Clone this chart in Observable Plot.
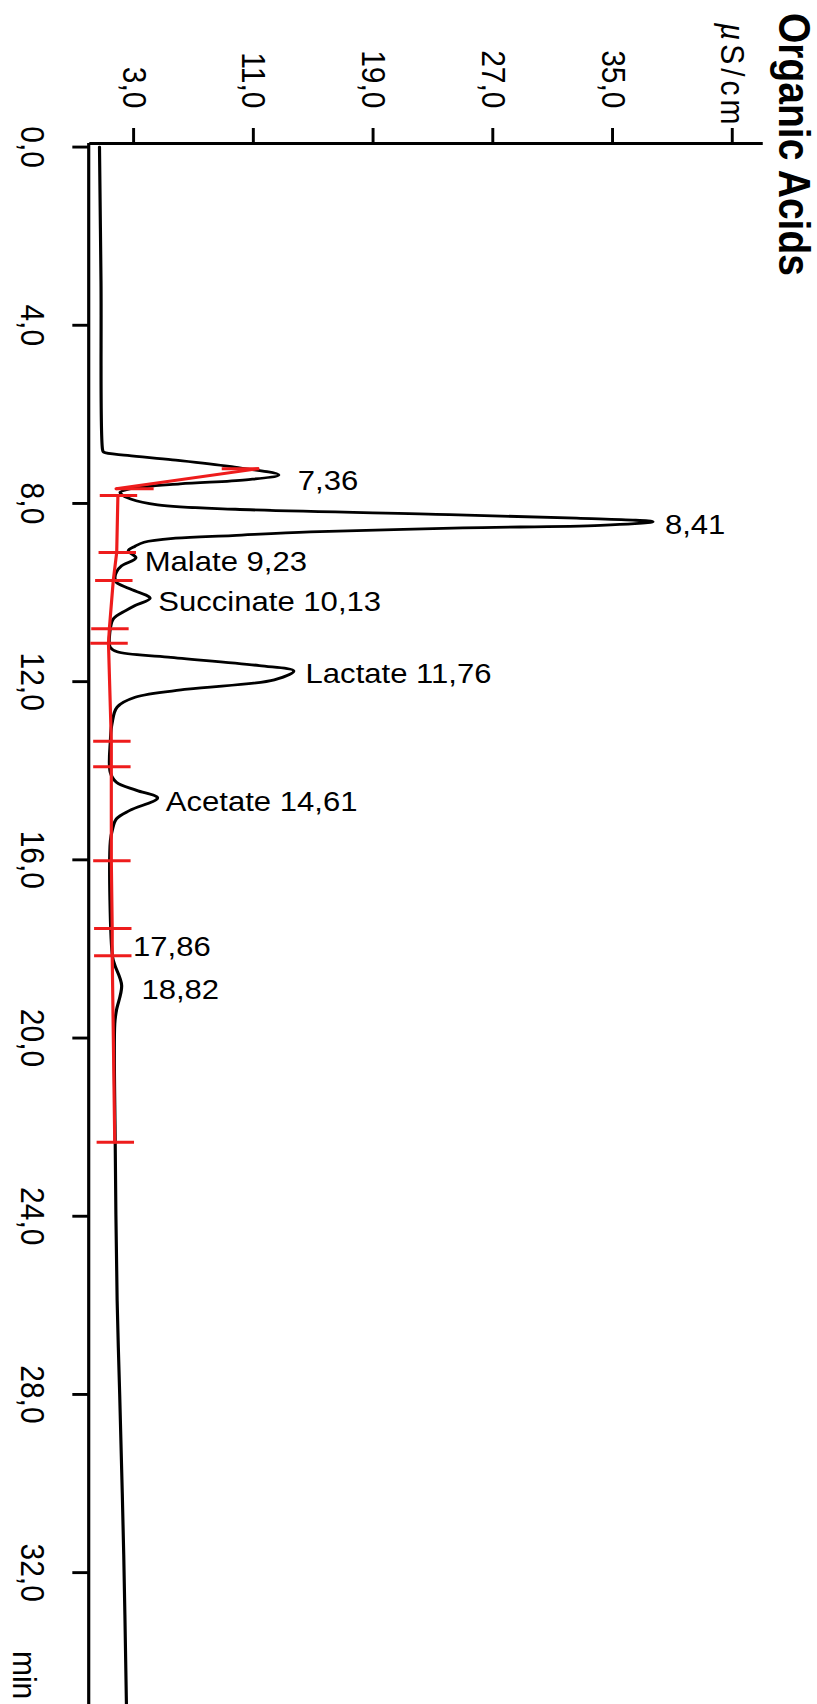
<!DOCTYPE html>
<html><head><meta charset="utf-8">
<script src="https://cdn.jsdelivr.net/npm/d3@7"></script>
<script src="https://cdn.jsdelivr.net/npm/@observablehq/plot@0.6"></script>
<style>
html,body{margin:0;padding:0;background:#fff;}
#page{position:relative;width:817px;height:1704px;overflow:hidden;}
#rot{position:absolute;left:0;top:0;width:1704px;height:723px;transform-origin:0 0;transform:translate(817px,0) rotate(90deg) scaleY(1.13);}
#title{position:absolute;left:13px;top:1px;font:bold 39px/40px "Liberation Sans",Arial,sans-serif;white-space:nowrap;color:#000;}
#chart{position:absolute;left:0;top:0;}
</style></head>
<body>
<div id="page"><div id="rot"><div id="chart"></div><div id="title"></div></div></div>
<script>
// Chromatogram trace: retention time (min) and conductivity (µS/cm)
const traceTime = [0, 3.0, 6.80, 6.85, 6.92, 7.02, 7.17, 7.36, 7.47, 7.56, 7.67, 7.75, 7.80,
  7.90, 8.03, 8.13, 8.25, 8.33, 8.41, 8.49, 8.55, 8.64, 8.72, 8.78, 8.87, 8.96,
  9.06, 9.22, 9.40, 9.54, 9.66, 9.77, 9.91, 10.13, 10.29, 10.40, 10.59, 10.93,
  11.23, 11.33, 11.45, 11.64, 11.76, 11.96, 12.17, 12.35, 12.57, 12.95, 13.32,
  14.03, 14.26, 14.44, 14.61, 14.89, 15.08, 15.34, 15.57, 16.9,
  18.19, 18.37, 18.82, 19.38, 19.68, 22.34, 25.9, 28.0, 31.6, 34.96];
const traceSignal = [0.72, 0.82, 0.93, 1.0, 2.6, 5.6, 9.4, 12.7, 10.5, 6.1, 2.8, 2.1, 2.2,
  2.8, 4.6, 9.8, 24.1, 32.6, 37.7, 34.2, 25.0, 14.8, 9.6, 5.8, 3.7, 3.1,
  2.65, 3.15, 2.2, 1.85, 1.75, 1.85, 2.7, 4.1, 3.1, 2.5, 1.65, 1.4,
  1.44, 1.9, 5.3, 11.4, 13.7, 12.4, 6.6, 3.1, 1.9, 1.55, 1.45,
  1.44, 1.85, 3.2, 4.6, 2.75, 1.85, 1.57, 1.45, 1.42,
  1.6, 1.75, 2.2, 1.85, 1.74, 1.77, 1.9, 2.07, 2.34, 2.52];

// Integration markers (start/end of peaks) and baseline
const markerTime   = [7.22, 7.67, 7.82, 9.10, 9.73, 10.81, 11.14, 13.34, 13.91, 16.02, 17.54, 18.15, 22.34];
const markerSignal = [10.1, 3.05, 1.95, 1.87, 1.64, 1.38, 1.32, 1.51, 1.51, 1.51, 1.57, 1.57, 1.74];
const skimTime   = [7.22, 7.67];
const skimSignal = [11.3, 1.83];

// Peak annotations
const peakNames = ["7,36", "8,41", "Malate 9,23", "Succinate 10,13", "Lactate 11,76", "Acetate 14,61", "17,86", "18,82"];
const peakLabelTime   = [7.49, 8.49, 9.32, 10.22, 11.83, 14.71, 17.96, 18.93];
const peakLabelSignal = [13.97, 38.5, 3.74, 4.65, 14.49, 5.15, 2.96, 3.52];

// Axes
const timeTicks = [0, 4, 8, 12, 16, 20, 24, 28, 32];
const signalTicks = [3, 11, 19, 27, 35];
const signalUnit = "µS/cm";
const signalUnitTick = 43;
const timeUnit = "min";
const timeUnitTick = 34.3;
const timeDomain = [-0.08, 34.96];
const signalDomain = [0, 45];
const chartTitle = "Organic Acids";

const trace = traceTime.map((t, i) => ({t, v: traceSignal[i]}));
const baseline = [
  ...skimTime.map((t, i) => ({t, v: skimSignal[i], seg: "a"})),
  ...markerTime.slice(2).map((t, i) => ({t, v: markerSignal[i + 2], seg: "b"}))
];
const markers = markerTime.map((t, i) => ({t, v: markerSignal[i]}));
const labels = peakNames.map((name, i) => ({name, t: peakLabelTime[i], v: peakLabelSignal[i]}));

const comma = d => d.toFixed(1).replace(".", ",");
const RED = "#ee1c1c";

document.getElementById("title").textContent = chartTitle;

const plot = Plot.plot({
  width: 1704, height: 723,
  marginLeft: 143, marginRight: 0, marginTop: 48, marginBottom: 79,
  style: {fontFamily: '"Liberation Sans", Arial, sans-serif', fontSize: "30px", color: "#000", background: "transparent", overflow: "visible"},
  x: {domain: timeDomain, label: null},
  y: {domain: signalDomain, label: null},
  marks: [
    Plot.ruleY([signalDomain[0]], {strokeWidth: 2.8}),
    Plot.ruleX([timeDomain[0]], {strokeWidth: 3.2}),
    Plot.axisX({ticks: timeTicks, tickFormat: comma, tickSize: 15, tickPadding: 24, strokeWidth: 2.9, label: null, fontSize: 30}),
    Plot.axisX({ticks: [timeUnitTick], tickFormat: () => timeUnit, tickSize: 0, tickPadding: 46, label: null, fontSize: 30}),
    Plot.axisY({ticks: signalTicks, tickFormat: comma, tickSize: 15, tickPadding: 20, strokeWidth: 2.6, label: null, fontSize: 30}),
    Plot.axisY({ticks: [signalUnitTick], tickFormat: () => signalUnit, tickSize: 15, tickPadding: 0, strokeWidth: 2.6, label: null, fontSize: 30}),
    Plot.line(trace, {x: "t", y: "v", stroke: "#000", strokeWidth: 2.8, strokeLinejoin: "round", curve: "catmull-rom"}),
    Plot.line(baseline, {x: "t", y: "v", z: "seg", stroke: RED, strokeWidth: 2.8}),
    Plot.ruleX(markers, {x: "t", y1: d => d.v - 1.25, y2: d => d.v + 1.25, stroke: RED, strokeWidth: 3}),
    Plot.text(labels, {x: "t", y: "v", text: "name", rotate: -90, textAnchor: "start", lineAnchor: "middle", fontSize: 27.5, fill: "#000"})
  ]
});

d3.select(plot).selectAll("text").filter(function() { return this.textContent === signalUnit; })
  .each(function() {
    const el = d3.select(this);
    el.attr("letter-spacing", 4).text("");
    el.append("tspan").attr("font-style", "italic").text(signalUnit.slice(0, 1));
    el.append("tspan").text(signalUnit.slice(1));
  });

document.getElementById("chart").appendChild(plot);
</script>
</body></html>
